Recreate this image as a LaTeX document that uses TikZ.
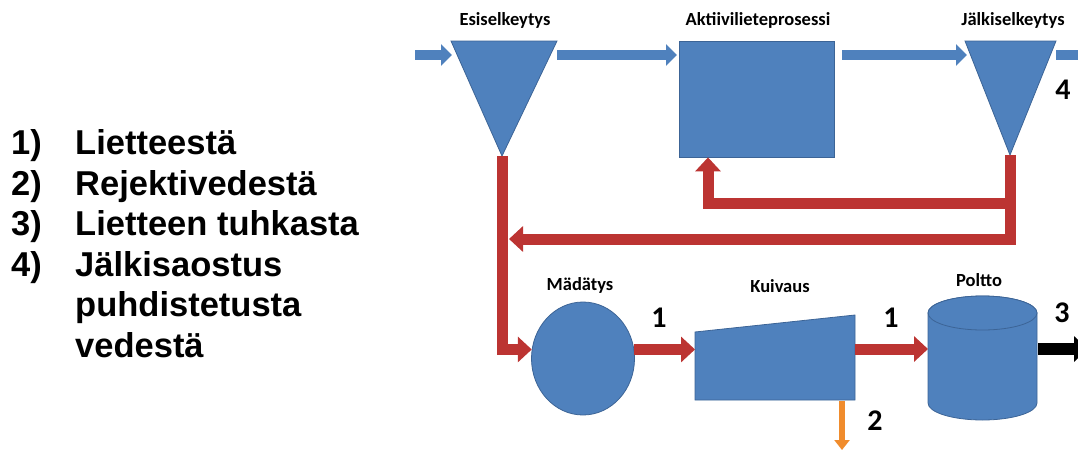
\documentclass[tikz,border=0pt]{standalone}
\usepackage{fontspec}
\setmainfont{Liberation Sans}
\newfontfamily\calfont{Carlito}
\usetikzlibrary{arrows.meta,shapes.geometric}
\definecolor{blueF}{RGB}{79,129,189}
\definecolor{blueD}{RGB}{60,100,150}
\definecolor{redA}{RGB}{188,52,50}
\definecolor{orangeA}{RGB}{240,140,45}
\begin{document}
\begin{tikzpicture}[x=1pt,y=1pt,
  unit/.style={fill=blueF,draw=blueD,line width=0.8pt},
  lbl/.style={font=\calfont\bfseries\fontsize{18.5}{21}\selectfont,inner sep=0pt},
  num/.style={font=\calfont\bfseries\fontsize{30}{34}\selectfont,inner sep=0pt},
  lst/.style={font=\bfseries\fontsize{34.5}{40}\selectfont,inner sep=0pt,anchor=base west},
  bluearrow/.style={draw=blueF,line width=10pt,-{Triangle[width=21pt,length=11pt]}},
  redarrow/.style={draw=redA,line width=11pt,line join=miter,-{Triangle[width=25pt,length=14pt]}},
  blackarrow/.style={draw=black,line width=12pt,-{Triangle[width=25pt,length=14pt]}},
  orangearrow/.style={draw=orangeA,line width=6pt,-{Triangle[width=15pt,length=10pt]}}
]
\useasboundingbox (0,0) rectangle (1078,-450);
\clip (0,0) rectangle (1078,-450);

% left list
\node[lst] (l1n) at (11,-154.5) {1)};   \node[lst] (l1t) at (75,-154.5) {Lietteestä};
\node[lst] (l2n) at (11,-195)   {2)};   \node[lst] (l2t) at (75,-195)   {Rejektivedestä};
\node[lst] (l3n) at (11,-235.5) {3)};   \node[lst] (l3t) at (75,-235.5) {Lietteen tuhkasta};
\node[lst] (l4n) at (11,-276)   {4)};   \node[lst] (l4t) at (75,-276)   {Jälkisaostus};
\node[lst] (l5t) at (75,-316.5) {puhdistetusta};
\node[lst] (l6t) at (75,-357)   {vedestä};

% units
\coordinate (esiTL) at (451,-41); \coordinate (esiTR) at (557,-41); \coordinate (esiTip) at (502,-156);
\path[unit] (esiTL) -- (esiTR) -- (esiTip) -- cycle;
\node[unit,minimum width=155pt,minimum height=116pt,inner sep=0pt] (akt) at (756.5,-99) {};
\coordinate (jalTL) at (965,-41); \coordinate (jalTR) at (1056,-41); \coordinate (jalTip) at (1010,-155);
\path[unit] (jalTL) -- (jalTR) -- (jalTip) -- cycle;
\node[unit,ellipse,minimum width=103pt,minimum height=113pt,inner sep=0pt] (mad) at (583,-358.5) {};
\coordinate (kuivTL) at (695,-332); \coordinate (kuivTR) at (855,-315);
\coordinate (kuivBR) at (855,-400); \coordinate (kuivBL) at (695,-400);
\path[unit] (kuivTL) -- (kuivTR) -- (kuivBR) -- (kuivBL) -- cycle;
\path[unit] (928,-313) -- (928,-403) arc[start angle=180,end angle=360,x radius=54.5,y radius=17]
  -- (1037,-313) arc[start angle=0,end angle=180,x radius=54.5,y radius=17] -- cycle;
\path[unit] (982.5,-313) ellipse[x radius=54.5,y radius=17];

% labels
\node[lbl] (tEsi) at (505,-20) {Esiselkeytys};
\node[lbl] (tAkt) at (758,-20) {Aktiivilieteprosessi};
\node[lbl] (tJal) at (1013,-20) {Jälkiselkeytys};
\node[lbl] (tMad) at (580,-285) {Mädätys};
\node[lbl] (tKuiv) at (780,-286) {Kuivaus};
\node[lbl] (tPol) at (979,-280) {Poltto};
\node[num] (n1a) at (659,-318) {1};
\node[num] (n1b) at (891,-318) {1};
\node[num] (n2) at (875,-421) {2};
\node[num] (n3) at (1062,-313) {3};
\node[num] (n4) at (1063,-90) {4};

% connector coordinates
\coordinate (inW) at (415,-55);   \coordinate (esiIn) at (452,-55);
\coordinate (esiOut) at (557,-55); \coordinate (aktIn) at (677,-55);
\coordinate (aktOut) at (842,-55); \coordinate (jalIn) at (967,-55);
\coordinate (jalOut) at (1056,-55); \coordinate (outW) at (1092,-55);
\coordinate (retR) at (1010,-239); \coordinate (retL) at (509,-239);
\coordinate (recR) at (1010,-203); \coordinate (recL) at (708,-203);
\coordinate (kuivL) at (695,-349); \coordinate (kuivR) at (855,-349);
\coordinate (polL) at (928,-349);  \coordinate (polR) at (1038,-349);
\coordinate (outB) at (1088,-349);
\coordinate (kuivB) at (842,-401); \coordinate (outO) at (842,-450);

% blue flow
\draw[bluearrow] (inW) -- (esiIn);
\draw[bluearrow] (esiOut) -- (aktIn);
\draw[bluearrow] (aktOut) -- (jalIn);
\draw[bluearrow] (jalOut) -- (outW);

% sludge flow
\draw[redarrow] (esiTip) |- (mad.170);
\draw[redarrow] (jalTip) -- (retR) -- (retL);
\draw[redarrow] (recR) -- (recL) -- (recL |- akt.south);
\draw[redarrow] (mad.10) -- (mad.10 -| kuivL);
\draw[redarrow] (kuivR) -- (polL);
\draw[blackarrow] (polR) -- (outB);
\draw[orangearrow] (kuivB) -- (outO);
\end{tikzpicture}
\end{document}
